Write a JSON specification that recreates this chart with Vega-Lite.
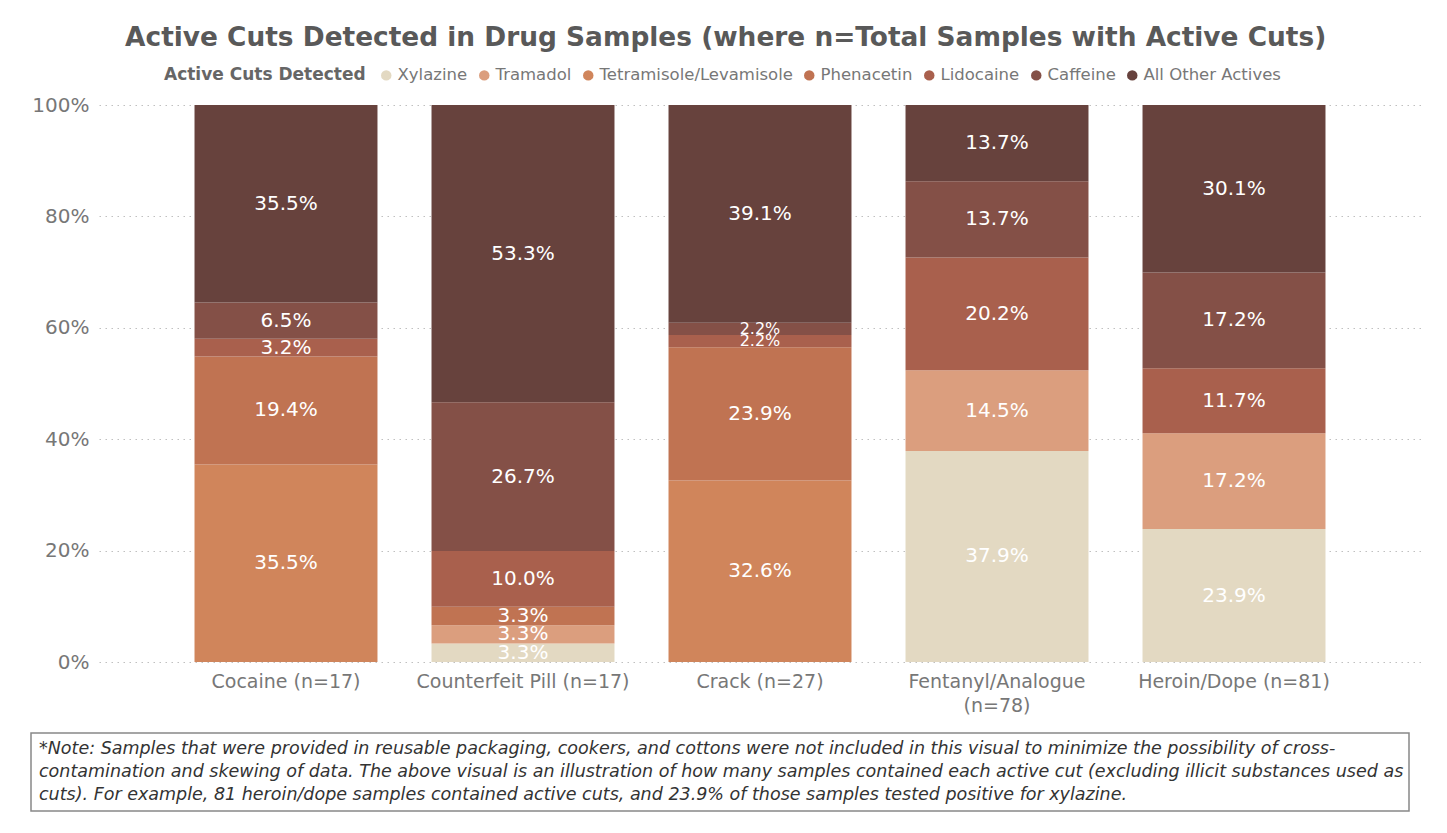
{
  "$schema": "https://vega.github.io/schema/vega-lite/v6.json",
  "background": "white",
  "padding": {"left": 30, "top": 24, "right": 20, "bottom": 10},
  "title": {
    "text": "Active Cuts Detected in Drug Samples (where n=Total Samples with Active Cuts)",
    "font": "DejaVu Sans",
    "fontSize": 26.4,
    "fontWeight": "bold",
    "color": "#595959",
    "anchor": "middle",
    "offset": 16
  },
  "datasets": {
    "cuts": [
      {"drug": "Cocaine (n=17)", "cut": "Tetramisole/Levamisole", "rank": 3, "pct": 0.355},
      {"drug": "Cocaine (n=17)", "cut": "Phenacetin", "rank": 4, "pct": 0.194},
      {"drug": "Cocaine (n=17)", "cut": "Lidocaine", "rank": 5, "pct": 0.032},
      {"drug": "Cocaine (n=17)", "cut": "Caffeine", "rank": 6, "pct": 0.065},
      {"drug": "Cocaine (n=17)", "cut": "All Other Actives", "rank": 7, "pct": 0.355},
      {"drug": "Counterfeit Pill (n=17)", "cut": "Xylazine", "rank": 1, "pct": 0.033},
      {"drug": "Counterfeit Pill (n=17)", "cut": "Tramadol", "rank": 2, "pct": 0.033},
      {"drug": "Counterfeit Pill (n=17)", "cut": "Phenacetin", "rank": 4, "pct": 0.033},
      {"drug": "Counterfeit Pill (n=17)", "cut": "Lidocaine", "rank": 5, "pct": 0.100},
      {"drug": "Counterfeit Pill (n=17)", "cut": "Caffeine", "rank": 6, "pct": 0.267},
      {"drug": "Counterfeit Pill (n=17)", "cut": "All Other Actives", "rank": 7, "pct": 0.533},
      {"drug": "Crack (n=27)", "cut": "Tetramisole/Levamisole", "rank": 3, "pct": 0.326},
      {"drug": "Crack (n=27)", "cut": "Phenacetin", "rank": 4, "pct": 0.239},
      {"drug": "Crack (n=27)", "cut": "Lidocaine", "rank": 5, "pct": 0.022},
      {"drug": "Crack (n=27)", "cut": "Caffeine", "rank": 6, "pct": 0.022},
      {"drug": "Crack (n=27)", "cut": "All Other Actives", "rank": 7, "pct": 0.391},
      {"drug": "Fentanyl/Analogue (n=78)", "cut": "Xylazine", "rank": 1, "pct": 0.379},
      {"drug": "Fentanyl/Analogue (n=78)", "cut": "Tramadol", "rank": 2, "pct": 0.145},
      {"drug": "Fentanyl/Analogue (n=78)", "cut": "Lidocaine", "rank": 5, "pct": 0.202},
      {"drug": "Fentanyl/Analogue (n=78)", "cut": "Caffeine", "rank": 6, "pct": 0.137},
      {"drug": "Fentanyl/Analogue (n=78)", "cut": "All Other Actives", "rank": 7, "pct": 0.137},
      {"drug": "Heroin/Dope (n=81)", "cut": "Xylazine", "rank": 1, "pct": 0.239},
      {"drug": "Heroin/Dope (n=81)", "cut": "Tramadol", "rank": 2, "pct": 0.172},
      {"drug": "Heroin/Dope (n=81)", "cut": "Lidocaine", "rank": 5, "pct": 0.117},
      {"drug": "Heroin/Dope (n=81)", "cut": "Caffeine", "rank": 6, "pct": 0.172},
      {"drug": "Heroin/Dope (n=81)", "cut": "All Other Actives", "rank": 7, "pct": 0.301}
    ],
    "note": [
      {"line": 1, "text": "*Note: Samples that were provided in reusable packaging, cookers, and cottons were not included in this visual to minimize the possibility of cross-"},
      {"line": 2, "text": "contamination and skewing of data. The above visual is an illustration of how many samples contained each active cut (excluding illicit substances used as"},
      {"line": 3, "text": "cuts). For example, 81 heroin/dope samples contained active cuts, and 23.9% of those samples tested positive for xylazine."}
    ]
  },
  "spacing": 17,
  "vconcat": [
    {
      "width": 1390,
      "height": 557,
      "data": {"name": "cuts"},
      "encoding": {
        "x": {
          "field": "drug",
          "type": "nominal",
          "sort": null,
          "scale": {"range": [68, 1390], "paddingInner": 0.228, "paddingOuter": 0.403},
          "axis": {
            "title": null,
            "labelAngle": 0,
            "labelLimit": 400,
            "labelFontSize": 19,
            "labelColor": "#777777",
            "labelPadding": 10,
            "labelLineHeight": 24,
            "domain": false,
            "ticks": false,
            "grid": false,
            "labelExpr": "datum.label == 'Fentanyl/Analogue (n=78)' ? ['Fentanyl/Analogue', '(n=78)'] : datum.label"
          }
        }
      },
      "layer": [
        {
          "mark": {"type": "bar"},
          "encoding": {
            "y": {
              "field": "pct",
              "type": "quantitative",
              "stack": "normalize",
              "scale": {"domain": [0, 1]},
              "axis": {
                "title": null,
                "format": ".0%",
                "values": [0, 0.2, 0.4, 0.6, 0.8, 1],
                "labelFontSize": 20,
                "labelColor": "#777777",
                "labelPadding": 10,
                "offset": -68,
                "domain": false,
                "ticks": false,
                "grid": true,
                "gridColor": "#c0c0c0",
                "gridDash": [1.5, 4.5],
                "gridWidth": 1.2
              }
            },
            "color": {
              "field": "cut",
              "type": "nominal",
              "scale": {
                "domain": ["Xylazine", "Tramadol", "Tetramisole/Levamisole", "Phenacetin", "Lidocaine", "Caffeine", "All Other Actives"],
                "range": ["#E3D9C2", "#DB9E7E", "#D0855B", "#C07352", "#A9604D", "#845047", "#67423D"]
              },
              "legend": {
                "title": "Active Cuts Detected",
                "orient": "none",
                "legendX": 133,
                "legendY": -38,
                "direction": "horizontal",
                "titleOrient": "left",
                "titleFontSize": 17,
                "titleFont": "DejaVu Sans",
                "titleFontWeight": "bold",
                "titleColor": "#666666",
                "titlePadding": 12,
                "titleLimit": 400,
                "labelFontSize": 16.5,
                "labelFont": "DejaVu Sans",
                "labelColor": "#777777",
                "labelOffset": 3,
                "labelLimit": 400,
                "columnPadding": 8,
                "symbolType": "circle",
                "symbolSize": 110,
                "symbolStrokeWidth": 0
              }
            },
            "order": {"field": "rank", "type": "quantitative"}
          }
        },
        {
          "mark": {"type": "text", "color": "white", "baseline": "middle", "align": "center", "font": "DejaVu Sans"},
          "encoding": {
            "y": {"field": "pct", "type": "quantitative", "stack": "normalize", "bandPosition": 0.5},
            "detail": {"field": "cut"},
            "order": {"field": "rank", "type": "quantitative"},
            "text": {"field": "pct", "type": "quantitative", "format": ".1%"},
            "size": {"condition": {"test": "datum.pct < 0.03", "value": 16}, "value": 20}
          }
        }
      ]
    },
    {
      "width": 1378,
      "height": 78,
      "data": {"name": "note"},
      "view": {"stroke": "#888888", "strokeWidth": 1.5},
      "mark": {"type": "text", "align": "left", "baseline": "middle", "dx": 8, "font": "DejaVu Sans", "fontStyle": "italic", "fontSize": 17.5, "color": "#333333"},
      "encoding": {
        "x": {"value": 0},
        "y": {"field": "line", "type": "ordinal", "axis": null, "scale": {"type": "point", "padding": 0.7}},
        "text": {"field": "text"}
      }
    }
  ],
  "config": {
    "font": "DejaVu Sans",
    "view": {"stroke": null}
  }
}
